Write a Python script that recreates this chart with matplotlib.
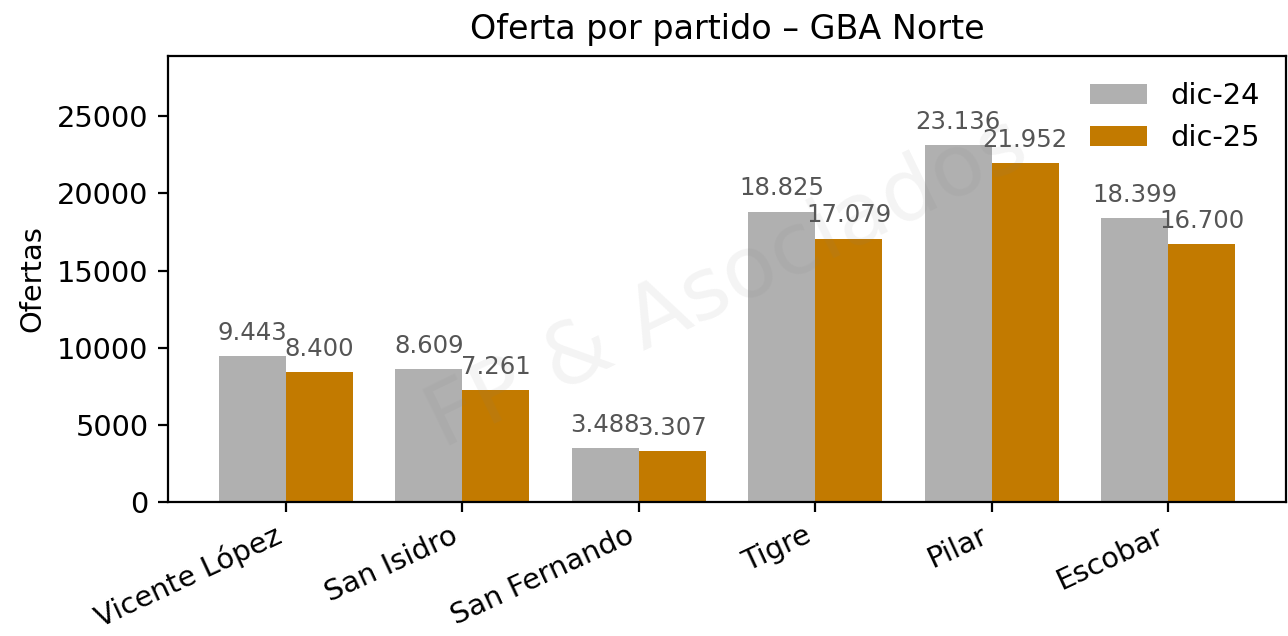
import matplotlib
matplotlib.use("Agg")
import matplotlib.pyplot as plt
import numpy as np

partidos = ["Vicente López", "San Isidro", "San Fernando", "Tigre", "Pilar", "Escobar"]
dic24 = [9443, 8609, 3488, 18825, 23136, 18399]
dic25 = [8400, 7261, 3307, 17079, 21952, 16700]
series_labels = ["dic-24", "dic-25"]


def fmt(v):
    return f"{v:,}".replace(",", ".")


def main() -> None:
    plt.rcParams.update({"font.family": "DejaVu Sans", "font.size": 10.4})
    fig, ax = plt.subplots(figsize=(6.44, 3.18), dpi=200)
    fig.subplots_adjust(left=0.1304, right=0.9985, top=0.912, bottom=0.211)

    x = np.arange(len(partidos))
    width = 0.38
    b1 = ax.bar(x - width / 2, dic24, width, color="#B0B0B0", label=series_labels[0])
    b2 = ax.bar(x + width / 2, dic25, width, color="#C27A00", label=series_labels[1])

    for bars, vals in ((b1, dic24), (b2, dic25)):
        ax.bar_label(bars, labels=[fmt(v) for v in vals], padding=4,
                     fontsize=8.8, color="#555555")

    ax.set_ylim(0, max(dic24) * 1.25)
    ax.set_xticks(x)
    ax.set_xticklabels(partidos, rotation=25, ha="right")
    ax.set_ylabel("Ofertas")
    ax.set_title("Oferta por partido – GBA Norte", fontsize=12, pad=6)
    ax.legend(frameon=False, loc="upper right")

    ax.text(0.5, 0.49, "FP & Asociados", transform=ax.transAxes, fontsize=31,
            color="gray", alpha=0.09, rotation=26, ha="center", va="center")

    fig.savefig("out.png", dpi=200)


if __name__ == "__main__":
    main()
